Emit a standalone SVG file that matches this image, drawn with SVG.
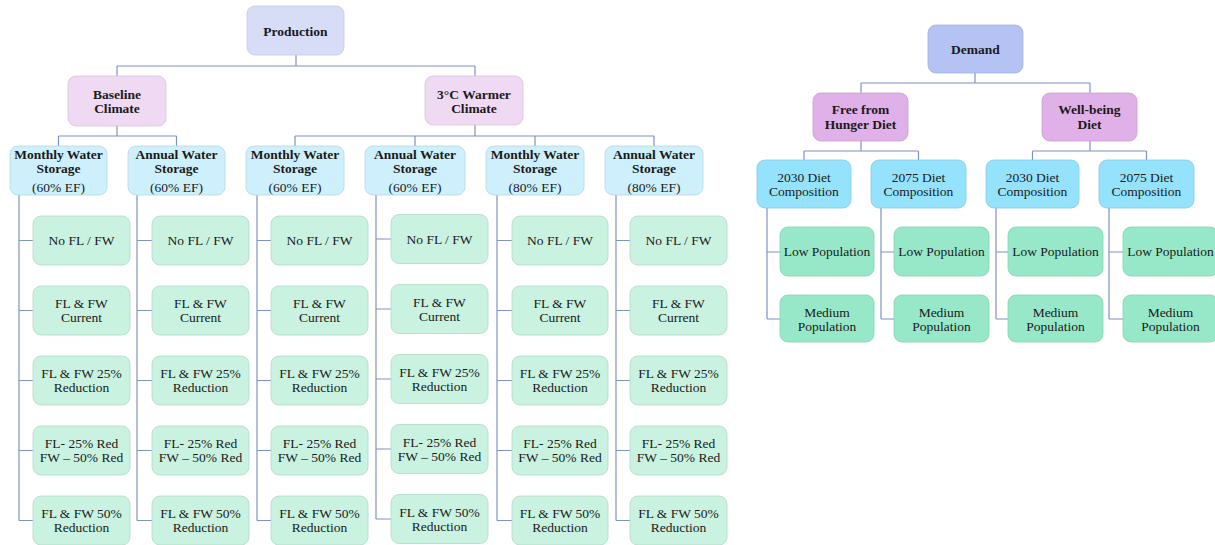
<svg xmlns="http://www.w3.org/2000/svg" width="1215" height="545" viewBox="0 0 1215 545">
<style>
text{font-family:'Liberation Serif','Times New Roman','DejaVu Serif',serif;font-size:13.5px;fill:#1a1a1a;text-anchor:middle;dominant-baseline:central}
.b{font-weight:bold}
rect{stroke-width:0.8;rx:8;ry:8}
.root{fill:#d7ddf6;stroke:#c3c9e4}
.clim{fill:#f0d9f2;stroke:#d8c3dc}
.stor{fill:#cdf0fc;stroke:#b9d6e2}
.leaf{fill:#c9f2e0;stroke:#b3d9c7}
.droot{fill:#b4c3f4;stroke:#a2b0de}
.diet{fill:#e0b0e8;stroke:#c9a0d2}
.comp{fill:#94e2fc;stroke:#86cbe4}
.dleaf{fill:#96e8c8;stroke:#86d2b4}
.con{fill:none;stroke:#7f93c4;stroke-width:1.2}
</style>
<g id="connectors" class="con">
<path d="M296,55V66M117,66H475M117,66V76M475,66V76"/>
<path d="M117,126V136M58.5,136H176.5M58.5,136V146M176.5,136V146"/>
<path d="M475,125V136M295,136H654M295,136V146M415,136V146M535,136V146M654,136V146"/>
<path d="M19,195V520.5M19,240.5H33M19,310.5H33M19,380.5H33M19,450.5H33M19,520.5H33"/>
<path d="M137,195V520.5M137,240.5H152M137,310.5H152M137,380.5H152M137,450.5H152M137,520.5H152"/>
<path d="M257,195V520.5M257,240.5H271M257,310.5H271M257,380.5H271M257,450.5H271M257,520.5H271"/>
<path d="M376,195V519M376,239H391M376,309H391M376,379H391M376,449H391M376,519H391"/>
<path d="M497,195V520.5M497,240.5H512M497,310.5H512M497,380.5H512M497,450.5H512M497,520.5H512"/>
<path d="M616,195V520.5M616,240.5H630M616,310.5H630M616,380.5H630M616,450.5H630M616,520.5H630"/>
<path d="M975,73V83M861,83H1090M861,83V93M1090,83V93"/>
<path d="M861,141V151M804,151H918.5M804,151V160M918.5,151V160"/>
<path d="M1090,141V151M1032.5,151H1146.5M1032.5,151V160M1146.5,151V160"/>
<path d="M767,208V319M767,252H780M767,319H780"/>
<path d="M881,208V319M881,252H894M881,319H894"/>
<path d="M996,208V319M996,252H1008M996,319H1008"/>
<path d="M1109,208V319M1109,252H1123M1109,319H1123"/>
</g>
<g id="production"><rect class="root" x="247" y="6" width="97" height="49"/><text class="b" x="295.5" y="31">Production</text></g>
<g id="baseline"><rect class="clim" x="68" y="76" width="98" height="50"/><text class="b" x="117" y="94">Baseline</text><text class="b" x="117" y="108">Climate</text></g>
<g id="warmer"><rect class="clim" x="425" y="76" width="98" height="49"/><text class="b" x="474" y="94">3°C Warmer</text><text class="b" x="474" y="108">Climate</text></g>

<g id="s1"><rect class="stor" x="10" y="146" width="97" height="49"/><text class="b" x="58.5" y="154.5">Monthly Water</text><text class="b" x="58.5" y="168.5">Storage</text><text x="58.5" y="187.5">(60% EF)</text></g>
<g id="s2"><rect class="stor" x="128" y="146" width="97" height="49"/><text class="b" x="176.5" y="154.5">Annual Water</text><text class="b" x="176.5" y="168.5">Storage</text><text x="176.5" y="187.5">(60% EF)</text></g>
<g id="s3"><rect class="stor" x="246" y="146" width="98" height="49"/><text class="b" x="295" y="154.5">Monthly Water</text><text class="b" x="295" y="168.5">Storage</text><text x="295" y="187.5">(60% EF)</text></g>
<g id="s4"><rect class="stor" x="365" y="146" width="100" height="49"/><text class="b" x="415" y="154.5">Annual Water</text><text class="b" x="415" y="168.5">Storage</text><text x="415" y="187.5">(60% EF)</text></g>
<g id="s5"><rect class="stor" x="486" y="146" width="98" height="49"/><text class="b" x="535" y="154.5">Monthly Water</text><text class="b" x="535" y="168.5">Storage</text><text x="535" y="187.5">(80% EF)</text></g>
<g id="s6"><rect class="stor" x="605" y="146" width="98" height="49"/><text class="b" x="654" y="154.5">Annual Water</text><text class="b" x="654" y="168.5">Storage</text><text x="654" y="187.5">(80% EF)</text></g>

<g id="l1a"><rect class="leaf" x="33" y="216" width="97" height="49"/><text x="81.5" y="240.5">No FL / FW</text></g>
<g id="l1b"><rect class="leaf" x="33" y="286" width="97" height="49"/><text x="81.5" y="303.5">FL &amp; FW</text><text x="81.5" y="317.5">Current</text></g>
<g id="l1c"><rect class="leaf" x="33" y="356" width="97" height="49"/><text x="81.5" y="373.5">FL &amp; FW 25%</text><text x="81.5" y="387.5">Reduction</text></g>
<g id="l1d"><rect class="leaf" x="33" y="426" width="97" height="49"/><text x="81.5" y="443.5">FL- 25% Red</text><text x="81.5" y="457.5">FW – 50% Red</text></g>
<g id="l1e"><rect class="leaf" x="33" y="496" width="97" height="49"/><text x="81.5" y="513.5">FL &amp; FW 50%</text><text x="81.5" y="527.5">Reduction</text></g>

<g id="l2a"><rect class="leaf" x="152" y="216" width="97" height="49"/><text x="200.5" y="240.5">No FL / FW</text></g>
<g id="l2b"><rect class="leaf" x="152" y="286" width="97" height="49"/><text x="200.5" y="303.5">FL &amp; FW</text><text x="200.5" y="317.5">Current</text></g>
<g id="l2c"><rect class="leaf" x="152" y="356" width="97" height="49"/><text x="200.5" y="373.5">FL &amp; FW 25%</text><text x="200.5" y="387.5">Reduction</text></g>
<g id="l2d"><rect class="leaf" x="152" y="426" width="97" height="49"/><text x="200.5" y="443.5">FL- 25% Red</text><text x="200.5" y="457.5">FW – 50% Red</text></g>
<g id="l2e"><rect class="leaf" x="152" y="496" width="97" height="49"/><text x="200.5" y="513.5">FL &amp; FW 50%</text><text x="200.5" y="527.5">Reduction</text></g>

<g id="l3a"><rect class="leaf" x="271" y="216" width="97" height="49"/><text x="319.5" y="240.5">No FL / FW</text></g>
<g id="l3b"><rect class="leaf" x="271" y="286" width="97" height="49"/><text x="319.5" y="303.5">FL &amp; FW</text><text x="319.5" y="317.5">Current</text></g>
<g id="l3c"><rect class="leaf" x="271" y="356" width="97" height="49"/><text x="319.5" y="373.5">FL &amp; FW 25%</text><text x="319.5" y="387.5">Reduction</text></g>
<g id="l3d"><rect class="leaf" x="271" y="426" width="97" height="49"/><text x="319.5" y="443.5">FL- 25% Red</text><text x="319.5" y="457.5">FW – 50% Red</text></g>
<g id="l3e"><rect class="leaf" x="271" y="496" width="97" height="49"/><text x="319.5" y="513.5">FL &amp; FW 50%</text><text x="319.5" y="527.5">Reduction</text></g>

<g id="l4a"><rect class="leaf" x="391" y="214.5" width="97" height="49"/><text x="439.5" y="239">No FL / FW</text></g>
<g id="l4b"><rect class="leaf" x="391" y="284.5" width="97" height="49"/><text x="439.5" y="302">FL &amp; FW</text><text x="439.5" y="316">Current</text></g>
<g id="l4c"><rect class="leaf" x="391" y="354.5" width="97" height="49"/><text x="439.5" y="372">FL &amp; FW 25%</text><text x="439.5" y="386">Reduction</text></g>
<g id="l4d"><rect class="leaf" x="391" y="424.5" width="97" height="49"/><text x="439.5" y="442">FL- 25% Red</text><text x="439.5" y="456">FW – 50% Red</text></g>
<g id="l4e"><rect class="leaf" x="391" y="494.5" width="97" height="49"/><text x="439.5" y="512">FL &amp; FW 50%</text><text x="439.5" y="526">Reduction</text></g>

<g id="l5a"><rect class="leaf" x="512" y="216" width="96" height="49"/><text x="560" y="240.5">No FL / FW</text></g>
<g id="l5b"><rect class="leaf" x="512" y="286" width="96" height="49"/><text x="560" y="303.5">FL &amp; FW</text><text x="560" y="317.5">Current</text></g>
<g id="l5c"><rect class="leaf" x="512" y="356" width="96" height="49"/><text x="560" y="373.5">FL &amp; FW 25%</text><text x="560" y="387.5">Reduction</text></g>
<g id="l5d"><rect class="leaf" x="512" y="426" width="96" height="49"/><text x="560" y="443.5">FL- 25% Red</text><text x="560" y="457.5">FW – 50% Red</text></g>
<g id="l5e"><rect class="leaf" x="512" y="496" width="96" height="49"/><text x="560" y="513.5">FL &amp; FW 50%</text><text x="560" y="527.5">Reduction</text></g>

<g id="l6a"><rect class="leaf" x="630" y="216" width="97" height="49"/><text x="678.5" y="240.5">No FL / FW</text></g>
<g id="l6b"><rect class="leaf" x="630" y="286" width="97" height="49"/><text x="678.5" y="303.5">FL &amp; FW</text><text x="678.5" y="317.5">Current</text></g>
<g id="l6c"><rect class="leaf" x="630" y="356" width="97" height="49"/><text x="678.5" y="373.5">FL &amp; FW 25%</text><text x="678.5" y="387.5">Reduction</text></g>
<g id="l6d"><rect class="leaf" x="630" y="426" width="97" height="49"/><text x="678.5" y="443.5">FL- 25% Red</text><text x="678.5" y="457.5">FW – 50% Red</text></g>
<g id="l6e"><rect class="leaf" x="630" y="496" width="97" height="49"/><text x="678.5" y="513.5">FL &amp; FW 50%</text><text x="678.5" y="527.5">Reduction</text></g>

<g id="demand"><rect class="droot" x="928" y="25" width="95" height="48"/><text class="b" x="975.5" y="49">Demand</text></g>
<g id="hunger"><rect class="diet" x="813" y="93" width="95" height="48"/><text class="b" x="860.5" y="109.5">Free from</text><text class="b" x="860.5" y="124">Hunger Diet</text></g>
<g id="wellbeing"><rect class="diet" x="1042" y="93" width="95" height="48"/><text class="b" x="1089.5" y="109.5">Well-being</text><text class="b" x="1089.5" y="124">Diet</text></g>

<g id="c1"><rect class="comp" x="757" y="160" width="94" height="48"/><text x="804" y="177">2030 Diet</text><text x="804" y="191.5">Composition</text></g>
<g id="c2"><rect class="comp" x="871" y="160" width="95" height="48"/><text x="918.5" y="177">2075 Diet</text><text x="918.5" y="191.5">Composition</text></g>
<g id="c3"><rect class="comp" x="986" y="160" width="93" height="48"/><text x="1032.5" y="177">2030 Diet</text><text x="1032.5" y="191.5">Composition</text></g>
<g id="c4"><rect class="comp" x="1099" y="160" width="95" height="48"/><text x="1146.5" y="177">2075 Diet</text><text x="1146.5" y="191.5">Composition</text></g>

<g id="p1a"><rect class="dleaf" x="780" y="227" width="94" height="49"/><text x="827" y="251.5">Low Population</text></g>
<g id="p1b"><rect class="dleaf" x="780" y="295" width="94" height="47"/><text x="827" y="312">Medium</text><text x="827" y="326.5">Population</text></g>
<g id="p2a"><rect class="dleaf" x="894" y="227" width="95" height="49"/><text x="941.5" y="251.5">Low Population</text></g>
<g id="p2b"><rect class="dleaf" x="894" y="295" width="95" height="47"/><text x="941.5" y="312">Medium</text><text x="941.5" y="326.5">Population</text></g>
<g id="p3a"><rect class="dleaf" x="1008" y="227" width="95" height="49"/><text x="1055.5" y="251.5">Low Population</text></g>
<g id="p3b"><rect class="dleaf" x="1008" y="295" width="95" height="47"/><text x="1055.5" y="312">Medium</text><text x="1055.5" y="326.5">Population</text></g>
<g id="p4a"><rect class="dleaf" x="1123" y="227" width="95" height="49"/><text x="1170.5" y="251.5">Low Population</text></g>
<g id="p4b"><rect class="dleaf" x="1123" y="295" width="95" height="47"/><text x="1170.5" y="312">Medium</text><text x="1170.5" y="326.5">Population</text></g>
</svg>
